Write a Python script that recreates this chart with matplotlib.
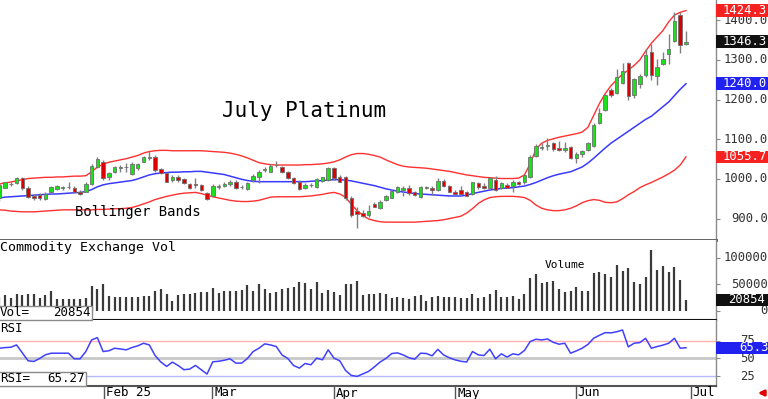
import numpy as np
import matplotlib
matplotlib.use("Agg")
import matplotlib.pyplot as plt
from matplotlib.patches import Rectangle
from matplotlib.lines import Line2D
from matplotlib.transforms import blended_transform_factory

# ---- values, one entry per trading day ----
opens = [951, 978, 986, 989, 1002, 978, 957, 960, 950, 966,
         975, 978, 980, 978, 966, 968, 986, 1031, 1043, 1006,
         1018, 1027, 1029, 1012, 1027, 1043, 1052, 1056, 1024, 1014,
         997, 1004, 999, 986, 987, 985, 964, 958, 979, 983,
         987, 993, 980, 975, 996, 1006, 1023, 1018, 1034, 1029,
         1017, 1003, 993, 976, 984, 979, 995, 997, 1028, 1006,
         1006, 953, 918, 915, 908, 936, 926, 947, 953, 966,
         972, 976, 966, 954, 978, 976, 972, 995, 981, 968,
         972, 966, 962, 989, 981, 977, 997, 976, 985, 981,
         992, 992, 1006, 1058, 1077, 1083, 1090, 1079, 1073, 1081,
         1052, 1063, 1073, 1084, 1140, 1173, 1224, 1217, 1242, 1291,
         1211, 1240, 1261, 1320, 1259, 1289, 1316, 1348, 1412, 1340]
highs = [990, 993, 993, 1004, 1004, 981, 961, 964, 966, 982,
         985, 983, 991, 981, 972, 991, 1037, 1054, 1048, 1018,
         1033, 1035, 1039, 1042, 1039, 1059, 1070, 1060, 1027, 1018,
         1010, 1010, 1003, 989, 1003, 987, 968, 987, 987, 993,
         997, 996, 985, 993, 1012, 1023, 1029, 1037, 1046, 1033,
         1020, 1006, 996, 989, 990, 1003, 1006, 1029, 1031, 1010,
         1008, 958, 930, 922, 935, 943, 947, 960, 972, 983,
         983, 985, 970, 982, 982, 981, 1002, 999, 985, 972,
         983, 970, 993, 993, 989, 1006, 1008, 993, 989, 996,
         995, 1012, 1060, 1087, 1090, 1102, 1094, 1096, 1094, 1083,
         1069, 1074, 1094, 1140, 1180, 1215, 1228, 1278, 1293, 1295,
         1255, 1264, 1328, 1341, 1303, 1320, 1366, 1422, 1420, 1374]
lows = [945, 976, 981, 987, 972, 953, 947, 947, 946, 961,
        972, 972, 975, 964, 960, 966, 985, 1028, 997, 997,
        1014, 1018, 1018, 1010, 1023, 1042, 1048, 1018, 1012, 992,
        993, 993, 986, 975, 976, 970, 947, 956, 975, 979,
        981, 975, 975, 972, 992, 989, 1018, 1017, 1031, 1016,
        999, 986, 972, 975, 979, 976, 992, 995, 997, 992,
        947, 903, 876, 905, 905, 928, 925, 945, 951, 964,
        956, 960, 957, 951, 975, 960, 970, 979, 966, 960,
        960, 956, 960, 975, 975, 975, 970, 974, 976, 966,
        985, 988, 1002, 1054, 1074, 1073, 1071, 1071, 1069, 1049,
        1039, 1056, 1071, 1081, 1138, 1171, 1207, 1215, 1239, 1198,
        1205, 1228, 1257, 1249, 1236, 1286, 1289, 1345, 1317, 1337]
closes = [985, 991, 988, 1002, 978, 955, 951, 951, 962, 979,
          981, 980, 979, 966, 961, 986, 1033, 1050, 1002, 1014,
          1031, 1031, 1030, 1037, 1037, 1056, 1054, 1023, 1014, 993,
          1006, 997, 989, 976, 985, 972, 950, 983, 983, 987,
          991, 978, 979, 989, 1008, 1017, 1024, 1033, 1035, 1018,
          1002, 989, 975, 985, 985, 1000, 1004, 1027, 1002, 993,
          951, 910, 912, 907, 920, 930, 943, 957, 970, 980,
          976, 964, 960, 979, 979, 972, 995, 982, 968, 963,
          962, 958, 991, 979, 976, 1002, 972, 989, 978, 993,
          988, 1009, 1056, 1083, 1081, 1085, 1075, 1073, 1078, 1052,
          1063, 1070, 1090, 1136, 1165, 1211, 1211, 1257, 1272, 1209,
          1251, 1259, 1312, 1261, 1281, 1303, 1328, 1398, 1338, 1346.3]

bb_upper = [987, 990, 992, 995, 998, 1001, 1002, 1003, 1004, 1004,
            1005, 1005, 1006, 1007, 1007, 1008, 1018, 1030, 1037, 1042,
            1045, 1048, 1051, 1055, 1059, 1065, 1069, 1071, 1072, 1072,
            1071, 1071, 1071, 1071, 1071, 1071, 1070, 1069, 1068, 1067,
            1065, 1062, 1058, 1053, 1047, 1041, 1038, 1036, 1035, 1035,
            1035, 1035, 1035, 1036, 1036, 1037, 1038, 1040, 1043, 1048,
            1055, 1061, 1064, 1064, 1062, 1059, 1055, 1048, 1042, 1036,
            1032, 1030, 1029, 1028, 1027, 1025, 1023, 1021, 1019, 1016,
            1013, 1010, 1008, 1006, 1004, 1003, 1002, 1001, 1001, 1001,
            1002, 1010, 1038, 1075, 1090, 1097, 1101, 1105, 1108, 1111,
            1114, 1118, 1130, 1160, 1190, 1215, 1235, 1250, 1264, 1274,
            1286, 1300, 1322, 1342, 1358, 1374, 1396, 1413, 1420, 1424.3]
bb_mid = [952, 954, 955, 956, 957, 958, 959, 960, 961, 962,
          962, 963, 964, 965, 966, 968, 973, 980, 985, 988,
          990, 992, 994, 996, 1000, 1005, 1010, 1013, 1015, 1016,
          1017, 1017, 1018, 1018, 1019, 1019, 1017, 1015, 1013, 1011,
          1007, 1003, 999, 996, 994, 993, 993, 993, 993, 993,
          993, 993, 993, 993, 994, 995, 996, 997, 998, 998,
          997, 995, 992, 989, 986, 983, 979, 975, 972, 969,
          967, 965, 963, 962, 961, 960, 959, 958, 957, 957,
          957, 959, 963, 966, 969, 972, 974, 976, 977, 978,
          980, 982, 986, 991, 997, 1003, 1008, 1012, 1015, 1018,
          1024, 1030, 1040, 1052, 1065, 1078, 1090, 1100, 1110, 1120,
          1130, 1140, 1150, 1158, 1170, 1182, 1194, 1210, 1226, 1240.0]
bb_lower = [922, 921, 919, 918, 917, 917, 917, 918, 919, 920,
            921, 922, 922, 922, 922, 922, 922, 923, 923, 924,
            925, 925, 926, 928, 932, 937, 942, 948, 952, 956,
            959, 962, 964, 965, 966, 963, 959, 955, 952, 949,
            946, 944, 943, 943, 944, 946, 950, 954, 955, 955,
            955, 955, 955, 956, 957, 959, 961, 964, 966, 962,
            954, 936, 920, 908, 899, 895, 892, 891, 891, 891,
            891, 891, 891, 892, 893, 894, 895, 897, 900, 903,
            906, 914, 925, 938, 947, 953, 955, 956, 956, 956,
            955, 953, 946, 934, 926, 922, 920, 920, 922, 926,
            932, 940, 945, 948, 946, 941, 940, 942, 950, 960,
            968, 978, 985, 991, 998, 1005, 1013, 1022, 1035, 1055.7]

volume = [27000, 29900, 23600, 31100, 29900, 31100, 31100, 24900, 29900, 37400,
          21700, 21700, 21700, 21700, 21700, 24900, 47400, 41200, 49900, 28600,
          26800, 26800, 26800, 26800, 26800, 28000, 28000, 38000, 41200, 31100,
          18600, 29900, 31100, 31100, 33000, 34900, 36200, 43700, 33000, 37400,
          37400, 37400, 39300, 48700, 37400, 49900, 41200, 33000, 36200, 41200,
          42400, 44300, 53700, 53100, 41200, 53700, 34300, 39300, 36200, 29900,
          50600, 49900, 56200, 29900, 31100, 31100, 33000, 31800, 23600, 26800,
          23600, 22400, 28000, 29900, 18600, 26800, 28000, 25500, 25500, 25500,
          23600, 23600, 31100, 23600, 25500, 31100, 39300, 25500, 26800, 28000,
          21700, 31800, 61200, 68700, 51800, 55000, 56800, 40500, 34900, 37400,
          45600, 38000, 38000, 71900, 73800, 68700, 64400, 86300, 75600, 80000,
          55000, 50600, 63100, 114500, 76900, 84400, 73800, 81900, 58100, 20854]

rsi = [64.6, 65.5, 66, 69.3, 58, 46.7, 45.8, 50, 55.2, 57.5,
       57.5, 57.5, 57.5, 49.5, 49.5, 59.9, 76.4, 79.7, 59.9, 61,
       64.6, 63.5, 62.3, 65.6, 68, 71.7, 69.3, 54.2, 45, 38.7,
       44.8, 40, 34, 34.9, 40.1, 34, 27.8, 45.3, 46, 47.5,
       49.5, 43.4, 43.4, 50, 59.9, 64.6, 70.8, 69.3, 67, 55,
       50, 40, 36.3, 42.9, 41, 50.5, 48.1, 62.3, 50.5, 46.7,
       33, 25.9, 24.5, 28, 31.6, 38, 45, 50, 57, 58,
       55, 51, 49, 57.5, 57.1, 53.8, 63, 55, 51, 48,
       46, 45, 59.9, 55.2, 54.2, 63.2, 49.5, 56.6, 52, 56.6,
       55.2, 61.3, 74.1, 77.4, 76.4, 77.8, 73, 70.3, 71.7, 57.5,
       60.8, 64.6, 70, 78.8, 83, 86.8, 86.5, 88, 90.6, 66.5,
       71.7, 72.6, 78.8, 64.6, 67, 69, 71.7, 78.8, 64.6, 65.27]

month_pos = [18.1, 36.9, 58.0, 79.0, 99.9, 119.8]
month_labels = ["Feb 25", "Mar", "Apr", "May", "Jun", "Jul"]

price_ticks = [900, 1000, 1100, 1200, 1300, 1400]
price_labels = ["900.0", "1000.0", "1100.0", "1200.0", "1300.0", "1400.0"]
vol_ticks = [0, 50000, 100000]
vol_labels = ["0", "50000", "100000"]
rsi_ticks = [25, 50, 75]
rsi_labels = ["25", "50", "75"]

W, H = 768, 399
PLOT_R = 716
MONO = "DejaVu Sans Mono"

fig = plt.figure(figsize=(W / 100, H / 100), dpi=100)
fig.patch.set_facecolor("white")


def fx(px):
    return px / W


def fy(py):
    return 1 - py / H


def make_ax(top, bottom, ylim, ticks):
    ax = fig.add_axes([0, fy(bottom), fx(PLOT_R), (bottom - top) / H])
    ax.set_xlim(0.13, 124.2)
    ax.set_ylim(*ylim)
    ax.set_xticks([])
    ax.spines["top"].set_visible(False)
    ax.spines["left"].set_visible(False)
    ax.spines["right"].set_color("#8a8a8a")
    ax.spines["right"].set_linewidth(1)
    ax.yaxis.tick_right()
    ax.set_yticks(ticks)
    ax.tick_params(axis="y", direction="out", length=3, color="#8a8a8a", labelright=False)
    return ax


def right_labels(ax, ticks, labels, x_px):
    tr = blended_transform_factory(fig.transFigure, ax.transData)
    for t, lab in zip(ticks, labels):
        ax.text(fx(x_px), t, lab, transform=tr, ha="right", va="center",
                fontsize=8.8, family=MONO, color="#333333", clip_on=False, zorder=4)


def value_box(ax, y, txt, color, text_px):
    tr = blended_transform_factory(fig.transFigure, ax.transData)
    y0, y1 = ax.get_ylim()
    h = 12.5 * (y1 - y0) / (ax.get_position().height * H)
    ax.add_patch(Rectangle((fx(PLOT_R), y - h / 2), fx(W - PLOT_R), h, transform=tr,
                           facecolor=color, edgecolor="none", clip_on=False, zorder=6))
    ax.text(fx(text_px), y, txt, transform=tr, ha="left", va="center", fontsize=8.8,
            family=MONO, color="white", clip_on=False, zorder=7)


x = np.arange(len(closes))
o = np.array(opens, dtype=float)
c = np.array(closes, dtype=float)
up = c >= o
body_lo = np.minimum(o, c)
body_h = np.maximum(np.abs(c - o), 1.2)

# price panel with bollinger bands
ax_p = make_ax(0, 240, (846, 1451), price_ticks)
ax_p.spines["bottom"].set_color("#555555")
ax_p.spines["bottom"].set_linewidth(2)
ax_p.plot(x, bb_upper, color="#ff3030", lw=1, zorder=2)
ax_p.plot(x, bb_lower, color="#ff3030", lw=1, zorder=2)
ax_p.plot(x, bb_mid, color="#3a3aff", lw=1.1, zorder=2)
ax_p.vlines(x, lows, highs, color="#808080", lw=1, zorder=3)
ax_p.bar(x[up], body_h[up], bottom=body_lo[up], width=0.6, color="#1de01d",
         edgecolor="#707070", lw=0.6, zorder=4)
ax_p.bar(x[~up], body_h[~up], bottom=body_lo[~up], width=0.6, color="#dd0000",
         edgecolor="#707070", lw=0.6, zorder=4)
right_labels(ax_p, price_ticks, price_labels, 768)
value_box(ax_p, bb_upper[-1], "1424.3", "#f52222", 723)
value_box(ax_p, closes[-1], "1346.3", "#111111", 723)
value_box(ax_p, bb_mid[-1], "1240.0", "#2222f0", 723)
value_box(ax_p, bb_lower[-1], "1055.7", "#f52222", 723)

# volume panel
ax_v = make_ax(240, 320, (-17100, 133300), vol_ticks)
ax_v.spines["bottom"].set_color("#111111")
ax_v.spines["bottom"].set_linewidth(1.5)
ax_v.vlines(x, 0, volume, color="#3a3a3a", lw=1.6)
right_labels(ax_v, vol_ticks, vol_labels, 768)
value_box(ax_v, volume[-1], "20854", "#111111", 728)

# rsi panel
ax_r = make_ax(320, 386, (10.8, 104.8), rsi_ticks)
ax_r.spines["bottom"].set_color("#555555")
ax_r.spines["bottom"].set_linewidth(1.5)
ax_r.axhline(75, color="#ffb0b0", lw=1)
ax_r.axhline(50, color="#c8c8c8", lw=2)
ax_r.axhline(25, color="#b8b8ff", lw=1)
ax_r.plot(x, rsi, color="#4040ff", lw=1.1)
right_labels(ax_r, rsi_ticks, rsi_labels, 755)
value_box(ax_r, rsi[-1], "65.3", "#2222f0", 739)

# texts
fig.text(fx(222), fy(111), "July Platinum", fontsize=15, family=MONO, va="center")
fig.text(fx(75), fy(212), "Bollinger Bands", fontsize=10, family=MONO, va="center")
fig.text(0, fy(248), "Commodity Exchange Vol", fontsize=9.5, family=MONO, va="center")
fig.text(fx(545), fy(265), "Volume", fontsize=8, family=MONO, va="center")
fig.text(0, fy(328), "RSI", fontsize=9, family=MONO, va="center")

# readout boxes on the left
for top, wid, left_txt, right_txt in [(306, 92, "Vol=", "20854"), (372, 86, "RSI=", "65.27")]:
    fig.add_artist(Rectangle((fx(-2), fy(top + 14)), fx(wid + 2), 14 / H, transform=fig.transFigure,
                             facecolor="white", edgecolor="#8a8a8a", lw=1, zorder=10))
    fig.text(0, fy(top + 7), left_txt, fontsize=9, family=MONO, va="center", zorder=11)
    fig.text(fx(wid - 1), fy(top + 7), right_txt, fontsize=9, family=MONO, va="center",
             ha="right", zorder=11)

# month ticks below the rsi panel
tr_date = blended_transform_factory(ax_r.transData, fig.transFigure)
for pos, lab in zip(month_pos, month_labels):
    fig.add_artist(Line2D([pos, pos], [fy(386), 0], transform=tr_date, color="#555555", lw=1))
    fig.text(pos + 0.35, fy(393), lab, transform=tr_date, fontsize=9, family=MONO,
             va="center", ha="left")

ax_r.annotate("", xy=(fx(755), fy(393)), xytext=(fx(767), fy(393)), xycoords="figure fraction",
              textcoords="figure fraction", annotation_clip=False,
              arrowprops=dict(arrowstyle="-|>", color="#e00000", lw=2, mutation_scale=8))

fig.savefig("out.png", dpi=100, facecolor="white")
